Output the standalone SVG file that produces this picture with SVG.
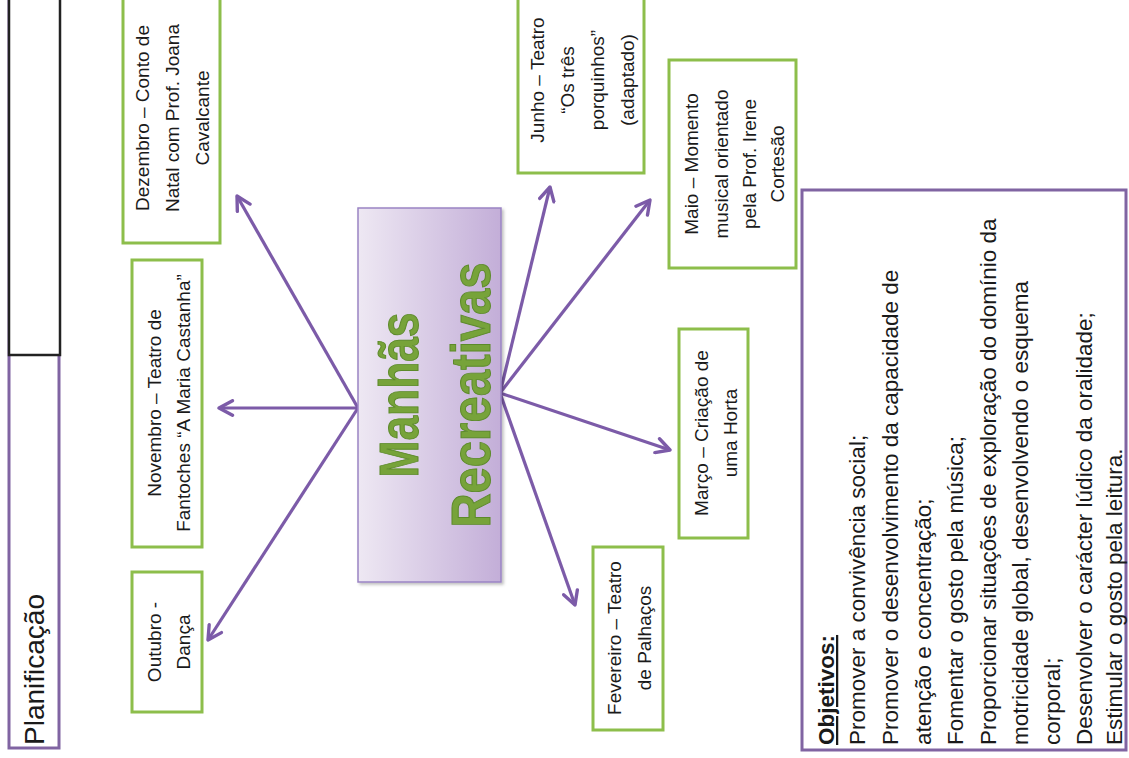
<svg xmlns="http://www.w3.org/2000/svg" width="1129" height="758" viewBox="0 0 1129 758">
<defs>
<style>
.gbox{fill:#ffffff;stroke:#8DBE4B;stroke-width:3}
.t{font-family:"Liberation Sans",Arial,sans-serif;font-size:19px;fill:#1a1a1a;text-anchor:middle}
.o{font-family:"Liberation Sans",Arial,sans-serif;font-size:22.5px;fill:#1a1a1a;text-anchor:start}
.arr{stroke:#7C5BA8;stroke-width:3.2;fill:none;marker-end:url(#ah)}
.title{font-family:"Liberation Sans",Arial,sans-serif;font-weight:bold;font-size:56px;fill:#77A33A;stroke:#5C8A2A;stroke-width:1;text-anchor:middle}
</style>
<marker id="ah" markerUnits="userSpaceOnUse" viewBox="0 0 16 16" markerWidth="18" markerHeight="18" refX="14" refY="8" orient="auto">
<path d="M2,1.5 L14,8 L2,14.5" fill="none" stroke="#7C5BA8" stroke-width="3" stroke-linecap="round" stroke-linejoin="round"/>
</marker>
<linearGradient id="cg" x1="0" y1="0" x2="1" y2="0">
<stop offset="0" stop-color="#EEE8F3"/>
<stop offset="1" stop-color="#C3AED8"/>
</linearGradient>
<filter id="sh" x="-10%" y="-10%" width="120%" height="120%">
<feDropShadow dx="2" dy="2" stdDeviation="1.5" flood-color="#000" flood-opacity="0.25"/>
</filter>
</defs>
<rect width="1129" height="758" fill="#ffffff"/>

<g id="planificacao">
<rect x="9" y="-3" width="50" height="751" fill="#fff" stroke="#8064A2" stroke-width="3"/>
<rect x="9" y="-3" width="51" height="358" fill="#fff" stroke="#222" stroke-width="2.5"/>
<text transform="translate(44,745) rotate(-90)" font-family="Liberation Sans,Arial,sans-serif" font-size="28" fill="#1a1a1a">Planificação</text>
</g>

<g id="connectors">
<line class="arr" x1="358" y1="408" x2="237" y2="196"/>
<line class="arr" x1="358" y1="408" x2="219" y2="408"/>
<line class="arr" x1="358" y1="408" x2="208" y2="640"/>
<line class="arr" x1="500" y1="393" x2="550" y2="187"/>
<line class="arr" x1="500" y1="393" x2="650" y2="200"/>
<line class="arr" x1="500" y1="393" x2="670" y2="450"/>
<line class="arr" x1="500" y1="393" x2="575" y2="605"/>
</g>

<g id="centro">
<rect x="358" y="208" width="143" height="374" fill="url(#cg)" stroke="#9A84C4" stroke-width="1.5" filter="url(#sh)"/>
<text class="title" transform="translate(418,395) rotate(-90)" textLength="165" lengthAdjust="spacingAndGlyphs">Manhãs</text>
<text class="title" transform="translate(490,395) rotate(-90)" textLength="265" lengthAdjust="spacingAndGlyphs">Recreativas</text>
</g>

<g id="dezembro">
<rect class="gbox" x="123" y="-3" width="97" height="246"/>
<text class="t" transform="translate(149,118) rotate(-90)">Dezembro – Conto de</text>
<text class="t" transform="translate(179,118) rotate(-90)">Natal com Prof. Joana</text>
<text class="t" transform="translate(209,118) rotate(-90)">Cavalcante</text>
</g>

<g id="novembro">
<rect class="gbox" x="132" y="260" width="70" height="287"/>
<text class="t" transform="translate(161,403) rotate(-90)">Novembro – Teatro de</text>
<text class="t" transform="translate(190,403) rotate(-90)">Fantoches “A Maria Castanha”</text>
</g>

<g id="outubro">
<rect class="gbox" x="132" y="572" width="70" height="140"/>
<text class="t" transform="translate(161,642) rotate(-90)">Outubro -</text>
<text class="t" transform="translate(190,642) rotate(-90)">Dança</text>
</g>

<g id="junho">
<rect class="gbox" x="518" y="-3" width="126" height="176"/>
<text class="t" transform="translate(544,80) rotate(-90)">Junho – Teatro</text>
<text class="t" transform="translate(574,80) rotate(-90)">“Os três</text>
<text class="t" transform="translate(604,80) rotate(-90)">porquinhos”</text>
<text class="t" transform="translate(634,80) rotate(-90)">(adaptado)</text>
</g>

<g id="maio">
<rect class="gbox" x="669" y="60" width="127" height="208"/>
<text class="t" transform="translate(698,164) rotate(-90)">Maio – Momento</text>
<text class="t" transform="translate(728,164) rotate(-90)">musical orientado</text>
<text class="t" transform="translate(756,164) rotate(-90)">pela Prof. Irene</text>
<text class="t" transform="translate(784,164) rotate(-90)">Cortesão</text>
</g>

<g id="marco">
<rect class="gbox" x="679" y="329" width="69" height="209"/>
<text class="t" transform="translate(708,433) rotate(-90)">Março – Criação de</text>
<text class="t" transform="translate(737,433) rotate(-90)">uma Horta</text>
</g>

<g id="fevereiro">
<rect class="gbox" x="593" y="547" width="70" height="183"/>
<text class="t" transform="translate(621,638) rotate(-90)">Fevereiro – Teatro</text>
<text class="t" transform="translate(651,638) rotate(-90)">de Palhaços</text>
</g>

<g id="objetivos">
<rect x="802" y="190" width="324" height="560" fill="#fff" stroke="#8064A2" stroke-width="3"/>
<text class="o" transform="translate(834,745) rotate(-90)" font-weight="bold" text-decoration="underline">Objetivos:</text>
<text class="o" transform="translate(865,745) rotate(-90)">Promover a convivência social;</text>
<text class="o" transform="translate(898,745) rotate(-90)">Promover o desenvolvimento  da capacidade de</text>
<text class="o" transform="translate(931,745) rotate(-90)">atenção e concentração;</text>
<text class="o" transform="translate(963,745) rotate(-90)">Fomentar o gosto pela música;</text>
<text class="o" transform="translate(996,745) rotate(-90)">Proporcionar situações de exploração do domínio da</text>
<text class="o" transform="translate(1028,745) rotate(-90)">motricidade global, desenvolvendo o esquema</text>
<text class="o" transform="translate(1060,745) rotate(-90)">corporal;</text>
<text class="o" transform="translate(1092,745) rotate(-90)">Desenvolver o carácter lúdico da oralidade;</text>
<text class="o" transform="translate(1122,745) rotate(-90)">Estimular o gosto pela leitura.</text>
</g>
</svg>
